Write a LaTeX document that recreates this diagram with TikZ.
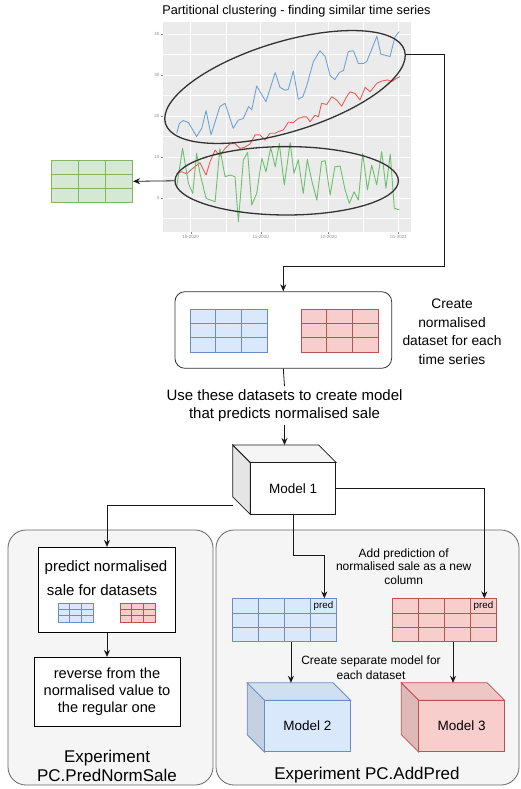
\documentclass[tikz,border=0pt]{standalone}
\usepackage{fontspec}
\setmainfont{Liberation Sans}
\usetikzlibrary{arrows.meta,calc,positioning,shapes.geometric}

\definecolor{bluefill}{HTML}{DAE8FC}
\definecolor{blueline}{HTML}{6C8EBF}
\definecolor{redfill}{HTML}{F8CECC}
\definecolor{redline}{HTML}{B85450}
\definecolor{greenfill}{HTML}{D5E8D4}
\definecolor{greenline}{HTML}{82B366}
\definecolor{whitefill}{HTML}{FFFFFF}
\definecolor{whiteline}{HTML}{1A1A1A}
\definecolor{panelfill}{HTML}{F5F5F5}
\definecolor{panelline}{HTML}{666666}
\definecolor{plotbg}{HTML}{EBEBEB}
\definecolor{tsblue}{HTML}{6FA3D8}
\definecolor{tsred}{HTML}{E5605A}
\definecolor{tsgreen}{HTML}{6CC06C}

\newcommand{\fs}[2]{\fontsize{#1}{#2}\selectfont}

% model box drawn as a cube: name, centre, label, colour
\newcommand{\modelcube}[4]{%
  \node[minimum width=103pt, minimum height=69pt, inner sep=0pt] (#1) at (#2) {};
  \filldraw[draw=#4line, fill=#4fill!90!black, line width=0.8pt]
    (#1.north west) -- ([xshift=17.5pt,yshift=-17.5pt]#1.north west)
    -- ([xshift=17.5pt]#1.south west) -- ([yshift=17.5pt]#1.south west) -- cycle;
  \filldraw[draw=#4line, fill=#4fill!96!black, line width=0.8pt]
    (#1.north west) -- ([xshift=-17.5pt]#1.north east)
    -- ([yshift=-17.5pt]#1.north east) -- ([xshift=17.5pt,yshift=-17.5pt]#1.north west) -- cycle;
  \node[draw=#4line, fill=#4fill, line width=0.8pt, inner sep=0pt,
    minimum width=85.5pt, minimum height=51.5pt, anchor=south east,
    font=\fs{13.5}{16}] (#1f) at (#1.south east) {#3};
}

\tikzset{
  tbl/.style n args={3}{draw=#1line, fill=#1fill, line width=0.7pt, inner sep=0pt,
    path picture={
      \foreach \c in {1,...,#2}
        \draw[#1line, line width=0.7pt]
          ($(path picture bounding box.north west)!\c/#2!(path picture bounding box.north east)$)
          -- ($(path picture bounding box.south west)!\c/#2!(path picture bounding box.south east)$);
      \foreach \r in {1,...,#3}
        \draw[#1line, line width=0.7pt]
          ($(path picture bounding box.north west)!\r/#3!(path picture bounding box.south west)$)
          -- ($(path picture bounding box.north east)!\r/#3!(path picture bounding box.south east)$);
    }},
  panel/.style={draw=panelline, fill=panelfill, rounded corners=18pt, line width=0.8pt,
    inner sep=0pt},
  plainbox/.style={draw=black, fill=white, line width=0.8pt, inner sep=0pt},
  link/.style={draw=black!90, line width=0.8pt},
  ring/.style={draw=black!80, line width=1.3pt, ellipse, inner sep=0pt},
  series/.style={line width=0.9pt, line join=round},
  ticklbl/.style={font=\fs{4.5}{5}, text=black!45, inner sep=1pt},
}

\begin{document}
\begin{tikzpicture}[x=1pt, y=-1pt, >={Stealth[length=7pt,width=6pt]}]
\fill[white] (0,0) rectangle (521,789);
\useasboundingbox (0,0) rectangle (521,789);

\node[font=\fs{12.7}{15}] (title) at (296.5,11.5)
  {Partitional clustering - finding similar time series};

% time series plot, days from 1 Oct 2020 against value
\begin{scope}[shift={(190.7pt,-198pt)}, x=2.26pt, y=4.1pt]
  \fill[plotbg] (-12.39,-8.22) rectangle (97.35,43);
  \foreach \v in {-5,5,15,25,35}
    \draw[white, line width=0.3pt] (-12.39,\v) -- (97.35,\v);
  \foreach \d in {15.5,46,76.5}
    \draw[white, line width=0.3pt] (\d,-8.22) -- (\d,43);
  \foreach \v in {0,10,...,40} {
    \draw[white, line width=0.7pt] (-12.39,\v) -- (97.35,\v);
    \draw[black!45, line width=0.3pt] (-12.39,\v) -- ++(-2pt,0);
    \node[ticklbl, anchor=east] at ([xshift=-2pt]-12.39,\v) {\v};
  }
  \foreach \d/\m in {0/10-2020,31/11-2020,61/12-2020,92/01-2021} {
    \draw[white, line width=0.7pt] (\d,-8.22) -- (\d,43);
    \draw[black!45, line width=0.3pt] (\d,-8.22) -- ++(0,-2pt);
    \node[ticklbl, anchor=north] at ([yshift=-2pt]\d,-8.22) {\m};
  }
  \draw[series, tsblue] plot coordinates {
    (-6.2,15.8) (-5.0,18.2) (-3.3,18.9) (-1.0,18.4) (2.6,15.0) (4.9,17.0)
    (6.8,21.3) (9.0,15.4) (12.9,22.3) (15.2,23.1) (18.8,17.0) (21.1,19.0)
    (23.3,19.4) (25.6,22.3) (27.0,21.5) (29.2,27.3) (33.3,23.5) (37.4,30.6)
    (39.5,27.0) (41.7,26.3) (43.2,26.5) (45.4,31.0) (47.6,24.1) (49.6,24.7)
    (51.3,27.3) (54.3,33.3) (57.2,35.9) (59.5,34.5) (61.7,29.8) (63.8,28.9)
    (65.8,30.6) (67.6,31.1) (69.7,35.7) (72.0,35.9) (74.2,32.8) (76.5,32.8)
    (77.9,33.3) (79.4,35.3) (82.4,39.5) (84.1,35.1) (88.2,34.5) (90.4,39.3)
    (92.3,40.6)};
  \draw[series, tsred] plot coordinates {
    (-6.2,6.0) (-4.0,6.4) (-1.8,5.9) (0.4,7.0) (4.1,8.6) (6.8,5.6) (8.6,8.9)
    (10.8,11.7) (12.9,10.3) (15.2,12.1) (17.4,13.2) (19.6,13.3) (21.8,12.1)
    (24.0,12.4) (26.3,13.2) (28.5,15.4) (30.6,15.4) (32.9,14.1) (35.1,15.8)
    (37.4,15.8) (38.8,16.2) (41.0,16.6) (43.2,18.5) (45.4,18.4) (47.6,19.4)
    (49.9,19.8) (51.3,19.8) (52.8,18.6) (55.0,20.2) (56.5,19.8) (57.9,23.1)
    (60.2,22.8) (62.4,24.7) (64.6,23.9) (66.8,22.4) (69.0,24.7) (70.5,25.9)
    (72.7,25.5) (74.9,23.9) (77.2,27.0) (79.4,25.9) (82.4,28.0) (84.5,28.5)
    (87.0,28.8) (89.0,28.4) (91.1,29.2) (92.6,29.6)};
  \draw[series, tsgreen] plot coordinates {
    (-6.2,2.8) (-3.6,12.1) (-1.0,3.6) (0.9,1.1) (2.6,10.9) (4.1,6.0) (6.8,-0.1)
    (10.8,-0.9) (12.9,12.1) (15.2,5.2) (17.4,5.6) (19.6,5.2) (21.1,-5.8)
    (23.3,9.3) (25.2,11.1) (27.0,-1.7) (29.2,1.1) (31.5,9.7) (33.3,6.4)
    (35.4,12.3) (37.4,7.6) (39.2,13.3) (41.4,3.2) (44.0,13.5) (45.7,6.0)
    (47.6,9.3) (49.8,1.1) (51.6,9.4) (53.5,4.4) (55.8,-0.5) (57.9,8.9)
    (59.5,9.1) (61.7,0.7) (63.8,7.6) (66.1,7.8) (68.3,2.0) (70.2,-1.3)
    (72.3,1.5) (74.2,-0.5) (76.1,10.9) (78.2,2.0) (80.1,8.0) (82.3,3.2)
    (84.5,11.3) (86.4,2.4) (88.3,10.7) (90.1,-2.5) (92.3,-2.9)};
\end{scope}

\node[ring, minimum width=250pt, minimum height=90pt, rotate=17] (upper) at (285,87) {};
\node[ring, minimum width=223.4pt, minimum height=68.4pt] (lower) at (286.7,180.8) {};

\node[tbl={green}{3}{3}, minimum width=81pt, minimum height=42.7pt] (gtab) at (92.2,181.3) {};

% normalised datasets
\node[plainbox, draw=black!80, rounded corners=10pt, minimum width=216.7pt,
  minimum height=76.6pt] (dsbox) at (283.3,330) {};
\node[tbl={blue}{3}{3}, minimum width=77pt, minimum height=43pt] (btab) at (228.5,330.5) {};
\node[tbl={red}{3}{3}, minimum width=77pt, minimum height=43pt] (rtab) at (339.5,330.5) {};
\node[align=center, font=\fs{13.8}{18.5}] (crtext) at (452,331.5)
  {Create\\normalised\\dataset for each\\time series};
\node[align=center, font=\fs{15}{17.5}] (usetext) at (284.5,405.5)
  {Use these datasets to create model\\that predicts normalised sale};

\modelcube{m1}{284.5,479.75}{Model 1}{white}

% experiment panels
\node[panel, minimum width=205pt, minimum height=255pt] (lpanel) at (110.5,657.5) {};
\node[panel, minimum width=303pt, minimum height=255pt] (rpanel) at (367.5,657.5) {};

\node[plainbox, minimum width=137.4pt, minimum height=85pt] (predbox) at (107,589.8) {};
\node[font=\fs{15}{17}] (pline1) at (106,567.5) {predict normalised};
\node[font=\fs{15}{17}] (pline2) at (102,590) {sale for datasets};
\node[tbl={blue}{3}{3}, minimum width=35pt, minimum height=19pt] (sbt) at (75.5,612.5) {};
\node[tbl={red}{3}{3}, minimum width=35pt, minimum height=19pt] (srt) at (137.5,612.5) {};
\node[plainbox, minimum width=146pt, minimum height=69.4pt, align=center,
  font=\fs{14.6}{17}] (revbox) at (107,692)
  {reverse from the\\normalised value to\\the regular one};
\node[align=center, font=\fs{17}{19}] (expa) at (107,766) {Experiment\\PC.PredNormSale};

\node[align=center, font=\fs{12}{13.5}] (addtext) at (403.7,566.5)
  {Add prediction of\\normalised sale as a new\\column};
\node[tbl={blue}{4}{3}, minimum width=103.3pt, minimum height=42.5pt] (bp) at (284.35,620) {};
\node[tbl={red}{4}{3}, minimum width=103.3pt, minimum height=42.5pt] (rp) at (444.35,620) {};
\node[font=\fs{9.8}{11}] (bpl) at ([xshift=-12.9pt,yshift=-7.1pt]bp.north east) {pred};
\node[font=\fs{9.8}{11}] (rpl) at ([xshift=-12.9pt,yshift=-7.1pt]rp.north east) {pred};
\node[align=center, font=\fs{12}{14.5}] (septext) at (371,667.5)
  {Create separate model for\\each dataset};
\modelcube{m2}{298.9,717.5}{Model 2}{blue}
\modelcube{m3}{453,717.5}{Model 3}{red}
\node[font=\fs{17}{19}] (expb) at (367,775) {Experiment PC.AddPred};

% connectors
\coordinate (turn) at (444,266);
\draw[link,->] (upper.-2) -| (turn) -| (dsbox.north);
\draw[link,->] (lower.west) -- (gtab.east);
\draw[link] (dsbox.south) -- (usetext.north);
\draw[link,->] (usetext.south) -- (m1.north);
\draw[link,->] ([yshift=-25.5pt]m1.west) -| (predbox.north);
\draw[link,->] (m1f.east) -| ([xshift=40pt]rp.north);
\draw[link,->] (m1f.south) -- ++(0,41) -| ([xshift=40pt]bp.north);
\draw[link,->] (predbox.south) -- (revbox.north);
\draw[link,->] ([xshift=6.6pt]bp.south) -- ([xshift=6.6pt]bp.south |- m2.north);
\draw[link,->] (rp.south -| m3.north) -- (m3.north);
\end{tikzpicture}
\end{document}
